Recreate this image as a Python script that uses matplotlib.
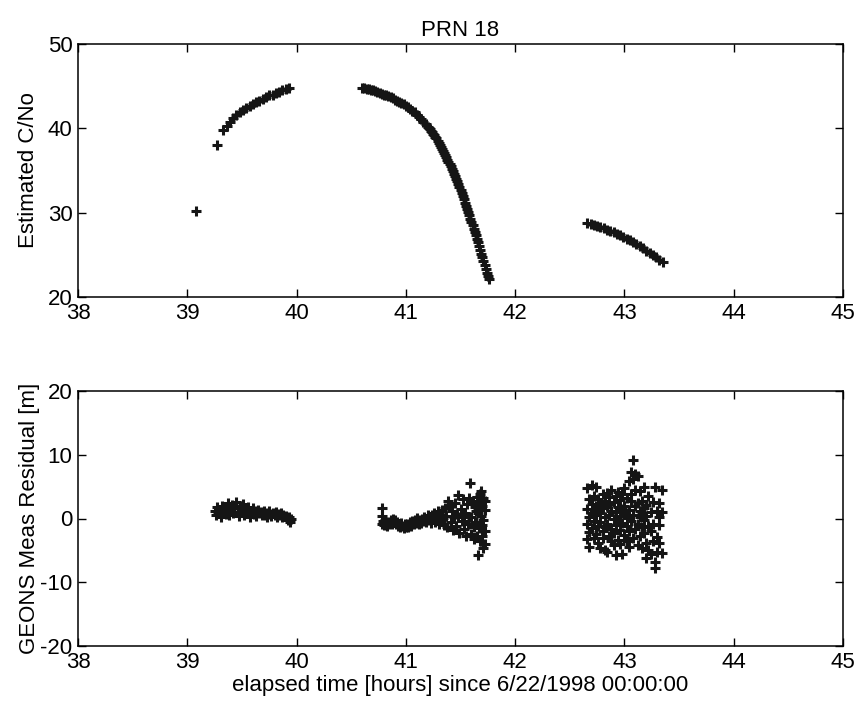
import matplotlib
matplotlib.use("Agg")
import matplotlib.pyplot as plt
import numpy as np

plt.rcParams['font.family'] = ['Liberation Sans', 'DejaVu Sans']
plt.rcParams['axes.unicode_minus'] = False

# ---------------- Top panel: Estimated C/No ----------------
cno_iso_t = [39.08, 39.27]
cno_iso_v = [30.2, 38.0]

cno_arc1_t = [39.33, 39.36, 39.39, 39.42, 39.45, 39.48, 39.51, 39.54, 39.57, 39.60,
              39.63, 39.66, 39.69, 39.72, 39.75, 39.78, 39.81, 39.84, 39.87, 39.90, 39.93]
cno_arc1_v = [39.8, 40.3, 40.8, 41.2, 41.6, 41.9, 42.2, 42.4, 42.7, 42.9,
              43.1, 43.3, 43.5, 43.7, 43.9, 44.0, 44.2, 44.3, 44.5, 44.7, 44.8]

cno_arc2a_t = [40.60, 40.62, 40.64, 40.66, 40.68, 40.70, 40.72, 40.74, 40.76, 40.78,
               40.80, 40.82, 40.84, 40.86, 40.88, 40.90, 40.92, 40.94, 40.96, 40.98,
               41.00, 41.02, 41.04, 41.06, 41.08, 41.10, 41.12, 41.14, 41.16, 41.18]
cno_arc2a_v = [44.8, 44.75, 44.7, 44.65, 44.55, 44.5, 44.4, 44.3, 44.2, 44.1,
               44.0, 43.9, 43.8, 43.7, 43.55, 43.4, 43.3, 43.15, 43.0, 42.85,
               42.7, 42.5, 42.3, 42.1, 41.9, 41.6, 41.35, 41.1, 40.8, 40.5]

cno_arc2b_t = [41.20, 41.21, 41.22, 41.23, 41.24, 41.25, 41.26, 41.27, 41.28, 41.29,
               41.30, 41.31, 41.32, 41.33, 41.34, 41.35, 41.36, 41.37, 41.38, 41.39,
               41.40, 41.41, 41.42, 41.43, 41.44, 41.45, 41.46, 41.47, 41.48, 41.49,
               41.50, 41.51, 41.52, 41.53, 41.54, 41.55, 41.56, 41.57, 41.58, 41.59,
               41.60, 41.61, 41.62, 41.63, 41.64, 41.65, 41.66, 41.67, 41.68, 41.69,
               41.70, 41.71, 41.72, 41.73, 41.74, 41.75, 41.76]
cno_arc2b_v = [40.2, 40.05, 39.9, 39.72, 39.55, 39.38, 39.2, 39.0, 38.8, 38.55,
               38.3, 38.05, 37.8, 37.55, 37.3, 37.05, 36.8, 36.55, 36.3, 36.05,
               35.8, 35.5, 35.2, 34.9, 34.6, 34.3, 34.0, 33.7, 33.4, 33.05,
               32.7, 32.35, 32.0, 31.6, 31.2, 30.8, 30.4, 30.05, 29.7, 29.3,
               28.9, 28.5, 28.1, 27.7, 27.3, 26.9, 26.5, 26.05, 25.6, 25.15,
               24.7, 24.25, 23.8, 23.35, 22.9, 22.5, 22.1]

cno_arc3_t = [42.66, 42.69, 42.72, 42.75, 42.78, 42.81, 42.84, 42.87, 42.90, 42.93,
              42.96, 42.99, 43.02, 43.05, 43.08, 43.11, 43.14, 43.17, 43.20, 43.23,
              43.26, 43.29, 43.32, 43.35]
cno_arc3_v = [28.8, 28.7, 28.55, 28.4, 28.3, 28.15, 28.0, 27.85, 27.7, 27.5,
              27.3, 27.1, 26.9, 26.7, 26.5, 26.3, 26.0, 25.8, 25.5, 25.2,
              24.95, 24.7, 24.4, 24.1]

# ---------------- Bottom panel: GEONS residuals ----------------
res1_t = [39.25, 39.26, 39.27, 39.28, 39.30, 39.31, 39.32, 39.33, 39.35, 39.36,
          39.37, 39.38, 39.40, 39.41, 39.42, 39.43, 39.45, 39.46, 39.47, 39.48,
          39.50, 39.51, 39.52, 39.53, 39.55, 39.56, 39.57, 39.58, 39.60, 39.61,
          39.62, 39.63, 39.65, 39.66, 39.67, 39.68, 39.70, 39.71, 39.72, 39.73,
          39.75, 39.76, 39.77, 39.78, 39.80, 39.81, 39.82, 39.83, 39.85, 39.86,
          39.87, 39.88, 39.90, 39.91, 39.92, 39.93, 39.94, 39.95]
res1_v = [1.2, 0.6, 1.8, 0.9, 1.4, 0.3, 2.0, 1.1, 0.7, 1.6,
          2.4, 0.5, 1.3, 2.1, 0.8, 1.7, 2.6, 1.0, 0.4, 1.9,
          1.2, 2.3, 0.6, 1.5, 0.9, 1.8, 0.3, 1.2, 1.6, 0.7,
          1.1, 0.4, 1.4, 0.8, 1.0, 0.5, 1.2, 0.6, 0.9, 0.3,
          1.1, 0.7, 0.4, 0.9, 0.6, 1.0, 0.2, 0.7, 0.5, 0.9,
          0.3, 0.6, 0.4, 0.1, -0.2, 0.3, -0.5, 0.0]

res2_t = [40.78, 40.78, 40.78, 40.79, 40.80, 40.81, 40.82, 40.83, 40.84, 40.85,
          40.86, 40.87, 40.88, 40.89, 40.90, 40.91, 40.92, 40.93, 40.94, 40.95,
          40.96, 40.97, 40.98, 40.99, 41.00, 41.01, 41.02, 41.03, 41.04, 41.05,
          41.06, 41.07, 41.08, 41.09, 41.10, 41.11, 41.12, 41.13, 41.14, 41.15,
          41.16, 41.17, 41.18, 41.19, 41.20, 41.21, 41.22, 41.23, 41.24, 41.25,
          41.26, 41.27, 41.28, 41.29, 41.30, 41.31, 41.32, 41.33, 41.34, 41.35,
          41.36, 41.37, 41.38, 41.39, 41.40, 41.41, 41.42, 41.43, 41.44, 41.45,
          41.46, 41.47, 41.48, 41.49, 41.50, 41.51, 41.52, 41.53, 41.54, 41.55,
          41.56, 41.57, 41.58, 41.59, 41.60, 41.60, 41.61, 41.62, 41.62, 41.63,
          41.64, 41.64, 41.65, 41.65, 41.66, 41.66, 41.67, 41.67, 41.68, 41.68,
          41.69, 41.69, 41.70, 41.70, 41.70, 41.71, 41.71, 41.71, 41.72, 41.72,
          41.72, 41.72, 41.69, 41.66, 41.63, 41.58, 41.53, 41.48]
res2_v = [1.6, 0.4, -0.8, -0.4, -1.0, -0.2, -0.7, -1.1, -0.5, -0.9,
          -0.3, -0.8, -0.1, -0.6, -0.2, -0.9, -0.5, -1.2, -0.8, -1.3,
          -0.7, -1.1, -1.5, -0.9, -1.3, -0.8, -1.4, -1.0, -0.6, -1.1,
          -0.4, -0.9, -0.2, -0.7, 0.1, -0.5, -0.9, -0.3, -0.7, 0.0,
          -0.4, 0.3, -0.6, -0.1, 0.5, -0.3, 0.2, -0.7, 0.6, 0.0,
          0.8, -0.5, 0.3, 1.1, -0.8, 0.5, -0.2, 1.3, 0.1, -1.0,
          1.6, 0.4, -1.3, 2.7, 2.0, -0.6, 1.2, -1.8, 0.3, 2.4,
          -1.1, 0.7, 3.7, -2.2, 1.5, -0.4, 3.0, -1.6, 0.9, -2.8,
          2.2, -0.9, 3.2, 5.6, -2.4, 0.3, 2.8, -1.4, -3.2, 1.8,
          1.1, -0.6, 3.4, -2.7, 0.9, -5.7, 2.5, -1.5, 3.9, -3.6,
          4.3, 0.4, 2.0, -1.0, -2.8, 3.2, -0.3, -4.6, 1.3, -2.0,
          -4.0, 2.8, -3.5, 1.5, -0.5, 0.2, 0.5, 0.3]

res3_t = [42.66, 42.68, 42.70, 42.72, 42.74, 42.76, 42.78, 42.80, 42.82, 42.84,
          42.86, 42.88, 42.90, 42.92, 42.94, 42.96, 42.98, 43.00, 43.02, 43.04,
          43.06, 43.08, 43.10, 43.12, 43.14, 43.16, 43.18, 43.20, 43.22, 43.24,
          43.26, 43.28, 43.30, 43.32, 43.34]
res3_v = [[4.8, 1.5, -0.8, -3.2], [3.0, 0.2, -2.1, -4.4], [5.2, 2.3, -1.5, 0.8],
          [1.0, -3.0, 3.6, -0.4], [4.9, -2.4, 0.5, 2.0], [-1.2, 3.1, -3.8, 1.4],
          [2.5, -0.6, -4.6, 0.9], [3.8, -2.0, 1.6, -3.1], [0.3, 2.8, -1.3, -4.9],
          [4.0, -0.9, 1.9, -5.3], [2.2, -2.7, 0.6, 3.3], [-1.6, 1.2, -3.6, 4.4],
          [0.0, 2.6, -2.3, -4.2], [3.5, -1.0, 1.0, -5.7], [1.8, -3.3, 4.2, -0.2],
          [-1.8, 2.9, 0.4, -4.0], [3.9, -0.7, 1.5, -5.6], [2.0, -2.6, 0.8, 4.8],
          [-1.1, 3.2, -3.5, 0.1], [5.9, 1.4, -2.0, -4.5], [7.3, 2.7, -0.4, 3.8],
          [9.2, 6.2, 0.6, -3.0], [7.0, 4.4, -1.7, 1.9], [6.6, 2.4, -0.9, -4.1],
          [4.3, 0.2, -2.8, 1.2], [2.8, -1.4, -4.6, 0.7], [4.9, -0.3, -2.3, 1.6],
          [-6.2, 2.1, -3.8, 0.4], [3.6, -1.1, -4.9], [-5.6, 1.0, -2.0],
          [2.6, -0.8, -3.6], [4.9, -7.8, -6.9], [1.2, -2.9, -5.2],
          [-1.0, 2.4, -3.9, 0.3], [4.5, 1.0, -5.4]]

xticks = [38, 39, 40, 41, 42, 43, 44, 45]
yticks_top = [20, 30, 40, 50]
yticks_bot = [-20, -10, 0, 10, 20]

title = "PRN 18"
ylabel_top = "Estimated C/No"
ylabel_bot = "GEONS Meas Residual [m]"
xlabel = "elapsed time [hours] since 6/22/1998 00:00:00"

# ---------------- Drawing ----------------
W, H = 856, 715
fig = plt.figure(figsize=(W / 100, H / 100), dpi=100)
left = 78 / W
width = (843 - 78) / W
ax1 = fig.add_axes([left, 1 - 297 / H, width, (297 - 44) / H])
ax2 = fig.add_axes([left, 1 - 646 / H, width, (646 - 391) / H])

mk = dict(linestyle='none', marker='+', color='#151515', markersize=6.5, markeredgewidth=2.2)

ax1.plot(cno_iso_t, cno_iso_v, **mk)
ax1.plot(cno_arc1_t, cno_arc1_v, **mk)
ax1.plot(cno_arc2a_t, cno_arc2a_v, **mk)
ax1.plot(cno_arc2b_t, cno_arc2b_v, **mk)
ax1.plot(cno_arc3_t, cno_arc3_v, **mk)

ax2.plot(res1_t, res1_v, **mk)
ax2.plot(res2_t, res2_v, **mk)
r3t = [t for t, vs in zip(res3_t, res3_v) for _ in vs]
r3v = [v for vs in res3_v for v in vs]
ax2.plot(r3t, r3v, **mk)

fs = 16
for ax, yt in ((ax1, yticks_top), (ax2, yticks_bot)):
    ax.set_xlim(38, 45)
    ax.set_ylim(yt[0], yt[-1])
    ax.set_xticks(xticks)
    ax.set_yticks(yt)
    ax.tick_params(direction='in', length=6, width=1.0, top=True, right=True,
                   labelsize=fs, pad=4)
    for s in ax.spines.values():
        s.set_linewidth(1.1)
        s.set_color('black')

ax1.set_title(title, fontsize=fs, pad=6)
ax1.set_ylabel(ylabel_top, fontsize=fs, labelpad=6)
ax2.set_ylabel(ylabel_bot, fontsize=fs, labelpad=0)
ax2.set_xlabel(xlabel, fontsize=fs, labelpad=2)

fig.savefig("out.png", dpi=100)
